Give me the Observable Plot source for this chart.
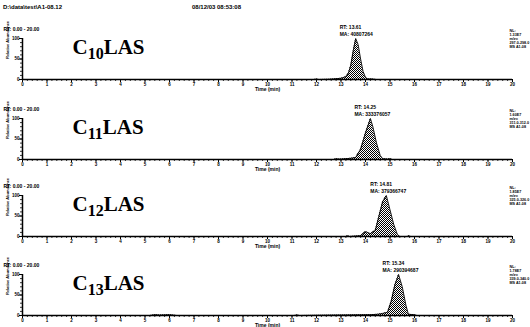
<!DOCTYPE html>
<html><head><meta charset="utf-8">
<script src="https://cdn.jsdelivr.net/npm/d3@7"></script>
<script src="https://cdn.jsdelivr.net/npm/@observablehq/plot@0.6"></script>
<style>
body{margin:0;background:#fff;width:530px;height:327px;overflow:hidden;position:relative;font-family:"Liberation Sans",Arial,sans-serif;}
.panel{position:absolute;left:0;}
.hdr{position:absolute;top:4px;font-size:6px;font-weight:bold;color:#000;white-space:nowrap;}
</style></head><body>
<svg width="0" height="0" style="position:absolute"><defs>
<pattern id="stipple" width="2" height="2" patternUnits="userSpaceOnUse"><rect width="2" height="2" fill="#fff"/><rect width="1" height="1" fill="#000"/><rect x="1" y="1" width="1" height="1" fill="#000"/></pattern>
</defs></svg>
<div class="hdr" style="left:3px">D:\data\test\A1-08.12</div>
<div class="hdr" style="left:192px">08/12/03 08:53:08</div>
<div id="charts"></div>
<script>
// ---- data ----
const compounds = ["C10LAS", "C11LAS", "C12LAS", "C13LAS"];
const rtRanges = ["RT: 0.00 - 20.00", "RT: 0.00 - 20.00", "RT: 0.00 - 20.00", "RT: 0.00 - 20.00"];
const peakRT = ["13.61", "14.25", "14.81", "15.34"];
const peakArea = ["40807264", "333376057", "379366747", "290394687"];
const normLevels = ["1.33E7", "1.60E7", "1.85E7", "1.78E7"];
const mzRanges = ["297.0-298.0", "311.0-312.0", "325.0-326.0", "339.0-340.0"];
const xLabel = "Time (min)";
const yLabel = "Relative Abundance";
const xMajorTicks = [0,1,2,3,4,5,6,7,8,9,10,11,12,13,14,15,16,17,18,19,20];
const yMajorTicks = [0, 50, 100];

const c10Time = [0, 11.9, 12.0, 12.1, 12.5, 12.7, 13.0, 13.2, 13.3, 13.4, 13.5, 13.6, 13.7, 13.8, 13.9, 14.0, 14.1, 14.25, 14.35, 14.45, 20];
const c10Abund = [0, 0, 1.2, 0, 0.5, 1.5, 3, 7, 15, 35, 70, 100, 85, 50, 20, 5, 1, 1.5, 0.5, 0, 0];

const c11Time = [0, 12.7, 12.8, 12.9, 13.0, 13.4, 13.6, 13.8, 14.0, 14.2, 14.3, 14.45, 14.6, 14.7, 14.9, 15.0, 15.1, 20];
const c11Abund = [0, 0, 2, 1, 1, 3, 5, 25, 65, 100, 80, 40, 10, 2, 1, 2, 0, 0];

const c12Time = [0, 13.2, 13.27, 13.35, 13.8, 14.0, 14.2, 14.4, 14.55, 14.7, 14.85, 15.0, 15.15, 15.3, 15.4, 15.7, 15.75, 15.85, 20];
const c12Abund = [0, 0, 2, 0, 2, 12, 7, 15, 50, 85, 100, 65, 30, 5, 0, 0, 2, 0, 0];

const c13Time = [0, 5.2, 5.4, 5.6, 6.0, 6.3, 11.1, 11.2, 11.3, 14.2, 14.5, 14.7, 14.9, 15.05, 15.2, 15.35, 15.5, 15.65, 15.75, 16.0, 16.1, 20];
const c13Abund = [0, 0, 2, 1, 2, 0, 0, 1.5, 0, 2, 3, 5, 8, 35, 75, 100, 70, 25, 3, 2, 0, 0];

const seriesTimes = [c10Time, c11Time, c12Time, c13Time];
const seriesAbunds = [c10Abund, c11Abund, c12Abund, c13Abund];
const panelTops = [20, 100, 177, 256];

const container = document.getElementById("charts");

function makePanel(i) {
  const data = seriesTimes[i].map((t, k) => ({t, a: seriesAbunds[i][k]}));
  const apex = data.reduce((m, d) => d.a > m.a ? d : m);
  const info = `NL:\n${normLevels[i]}\nm/z=\n${mzRanges[i]}\nMS A1-08`;
  const chart = Plot.plot({
    width: 530, height: 79,
    marginLeft: 22, marginRight: 18, marginTop: 18, marginBottom: 20,
    x: {domain: [0, 20], label: null},
    y: {domain: [0, 100], label: null},
    style: {fontFamily: "'Liberation Sans', Arial, sans-serif", fontWeight: "bold", color: "#000", background: "transparent", overflow: "visible"},
    marks: [
      Plot.areaY(data, {x: "t", y: "a", fill: "url(#stipple)"}),
      Plot.lineY(data, {x: "t", y: "a", stroke: "#000", strokeWidth: 0.9}),
      Plot.axisX({ticks: d3.range(0, 20.001, 0.2), tickSize: 2, tickFormat: () => "", strokeWidth: 0.8, label: null}),
      Plot.axisX({ticks: xMajorTicks, tickSize: 3, tickPadding: 0, fontSize: 4.5, tickFormat: d => String(d), label: null}),
      Plot.axisY({ticks: d3.range(0, 100.001, 10), tickSize: 2, tickFormat: () => "", strokeWidth: 0.8, label: null}),
      Plot.axisY({ticks: yMajorTicks, tickSize: 3, tickPadding: 0, fontSize: 4.5, label: null}),
      Plot.ruleY([0], {strokeWidth: 1.5}),
      Plot.ruleX([0], {strokeWidth: 1.5}),
      Plot.text([xLabel], {frameAnchor: "bottom", dy: 11, fontSize: 5}),
      Plot.text([yLabel], {frameAnchor: "left", rotate: -90, dx: -15, fontSize: 4}),
      Plot.text([rtRanges[i]], {frameAnchor: "top-left", dx: -19, dy: -11, textAnchor: "start", fontSize: 5}),
      Plot.text([compounds[i]], {frameAnchor: "top-left", dx: 50, dy: 15, textAnchor: "start", lineAnchor: "bottom", fontSize: 21, fontFamily: "'Liberation Serif', 'Times New Roman', serif", fontWeight: "bold"}),
      Plot.text([apex], {x: "t", y: "a", text: () => `RT: ${peakRT[i]}\nMA: ${peakArea[i]}`, textAnchor: "start", dx: -16, dy: -3, lineAnchor: "bottom", fontSize: 5, lineHeight: 1.3}),
      Plot.text([info], {frameAnchor: "top-right", dx: -3, dy: -9, textAnchor: "start", lineAnchor: "top", fontSize: 3.7, lineHeight: 1.05})
    ]
  });
  // render subscript digits in the compound label
  const m = compounds[i].match(/^C(\d+)(.*)$/);
  d3.select(chart).selectAll("text").filter(function() { return this.textContent === compounds[i]; }).each(function() {
    const t = d3.select(this);
    t.text(null);
    t.append("tspan").text("C");
    t.append("tspan").attr("dy", 5).attr("font-size", 16).text(m[1]);
    t.append("tspan").attr("dy", -5).text(m[2]);
  });
  const div = document.createElement("div");
  div.className = "panel";
  div.style.top = panelTops[i] + "px";
  div.appendChild(chart);
  container.appendChild(div);
}
for (let i = 0; i < compounds.length; i++) makePanel(i);
</script>
</body></html>
